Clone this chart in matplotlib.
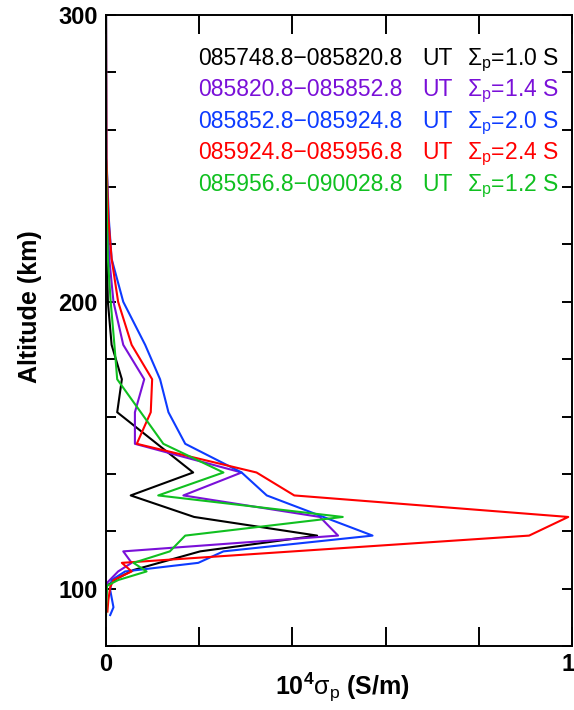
import matplotlib
matplotlib.use("Agg")
import matplotlib.pyplot as plt
from matplotlib.ticker import FixedLocator, FuncFormatter
from matplotlib.transforms import ScaledTranslation

plt.rcParams['font.family'] = ['Liberation Sans', 'DejaVu Sans']
plt.rcParams['mathtext.fontset'] = 'custom'
plt.rcParams['mathtext.rm'] = 'Liberation Sans'
plt.rcParams['mathtext.it'] = 'Liberation Sans:italic'
plt.rcParams['mathtext.bf'] = 'Liberation Sans:bold'

# Pedersen conductivity profiles, 10^4 S/m vs altitude in km
alt_1 = [300, 250, 229, 215, 200, 185, 173, 161.5, 140.5, 132.5, 125, 118.5, 113, 106.5, 103.5, 101, 96]
sig_1 = [0, 0, 0.001, 0.002, 0.004, 0.012, 0.034, 0.024, 0.187, 0.053, 0.189, 0.453, 0.202, 0.059, 0.023, 0.002, 0.0]

alt_2 = [300, 250, 229, 215, 200, 185, 173, 161.5, 150.5, 140.5, 132.5, 125, 118.5, 113, 109, 106, 102, 99]
sig_2 = [0, 0, 0.003, 0.007, 0.016, 0.037, 0.082, 0.062, 0.062, 0.291, 0.166, 0.459, 0.498, 0.037, 0.055, 0.026, 0.002, 0.0]

alt_3 = [300, 250, 229, 215, 200, 185, 173, 161.5, 150.5, 140.5, 132.5, 118.5, 113, 109, 106, 103, 99.5, 93.5, 90.8]
sig_3 = [0, 0.001, 0.006, 0.012, 0.037, 0.084, 0.116, 0.134, 0.170, 0.291, 0.345, 0.572, 0.252, 0.198, 0.041, 0.012, 0.009, 0.016, 0.009]

alt_4 = [300, 250, 229, 215, 200, 185, 173, 161.5, 150.5, 140.5, 132.5, 125, 118.5, 109, 106, 103, 100.5, 96, 92]
sig_4 = [0, 0.001, 0.005, 0.012, 0.026, 0.055, 0.099, 0.096, 0.066, 0.323, 0.404, 0.992, 0.908, 0.034, 0.055, 0.016, 0.009, 0.005, 0.003]

alt_5 = [300, 250, 229, 215, 200, 185, 173, 150.5, 140.5, 132.5, 125, 118.5, 113, 109, 106, 103, 101, 96, 90.5]
sig_5 = [0, 0, 0.002, 0.004, 0.010, 0.018, 0.024, 0.123, 0.252, 0.112, 0.508, 0.170, 0.137, 0.059, 0.087, 0.026, 0.002, 0.001, 0.0]

times = ['085748.8\u2212085820.8', '085820.8\u2212085852.8', '085852.8\u2212085924.8',
         '085924.8\u2212085956.8', '085956.8\u2212090028.8']
sigma_total = [1.0, 1.4, 2.0, 2.4, 1.2]
colors = ['#000000', '#7A10D8', '#0D3BFF', '#FF0000', '#10C020']

profiles = [(alt_1, sig_1), (alt_2, sig_2), (alt_3, sig_3), (alt_4, sig_4), (alt_5, sig_5)]

fig = plt.figure(figsize=(5.74, 7.10), dpi=100)
ax = fig.add_axes([0.1847, 0.0901, 0.8118, 0.8888])

for (alt, sig), c in zip(profiles, colors):
    ax.plot(sig, alt, color=c, linewidth=1.5)

ax.set_xlim(0, 1)
ax.set_ylim(80, 300)

# ticks every 0.2 and 20 km, only end values labelled
ax.xaxis.set_major_locator(FixedLocator([0, 0.2, 0.4, 0.6, 0.8, 1.0]))
ax.xaxis.set_major_formatter(FuncFormatter(lambda v, p: '%d' % round(v) if v in (0, 1.0) else ''))
ax.yaxis.set_major_locator(FixedLocator(list(range(80, 301, 20))))
ax.yaxis.set_major_formatter(FuncFormatter(lambda v, p: '%d' % v if v in (100, 200, 300) else ''))

ax.tick_params(axis='x', direction='in', length=13.5, width=1.4, top=True, bottom=True,
               labelsize=17, pad=5)
ax.tick_params(axis='y', direction='in', length=7.2, width=1.4, left=True, right=True,
               labelsize=17, pad=6)
for lab in ax.get_xticklabels() + ax.get_yticklabels():
    lab.set_fontweight('bold')
for s in ax.spines.values():
    s.set_linewidth(1.4)

fig.text(30 / 574, 1 - 307 / 710, 'Altitude (km)', rotation=90, ha='center', va='center',
         fontsize=18, fontweight='bold')
fig.text(342 / 574, 1 - 687 / 710, r'10$^{\mathbf{4}}$$\mathrm{\sigma_p}$ (S/m)',
         ha='center', va='center', fontsize=18, fontweight='bold')

# interval labels with integrated conductance
for i in range(len(times)):
    y = 0.921 - 0.05 * i
    ax.text(0.197, y, times[i], transform=ax.transAxes, color=colors[i],
            fontsize=16.5, va='baseline')
    ax.text(0.678, y, 'UT', transform=ax.transAxes, color=colors[i],
            fontsize=16.5, va='baseline')
    ax.text(0.775, y, r'$\mathrm{\Sigma_p}$=%.1f S' % sigma_total[i], transform=ax.transAxes,
            color=colors[i], fontsize=16.5, va='baseline')

# nudge the "1" label so it stays inside the figure
fig.canvas.draw()
last = ax.get_xticklabels()[-1]
last.set_transform(last.get_transform() + ScaledTranslation(-0.04, 0, fig.dpi_scale_trans))

fig.savefig('out.png', dpi=100)
